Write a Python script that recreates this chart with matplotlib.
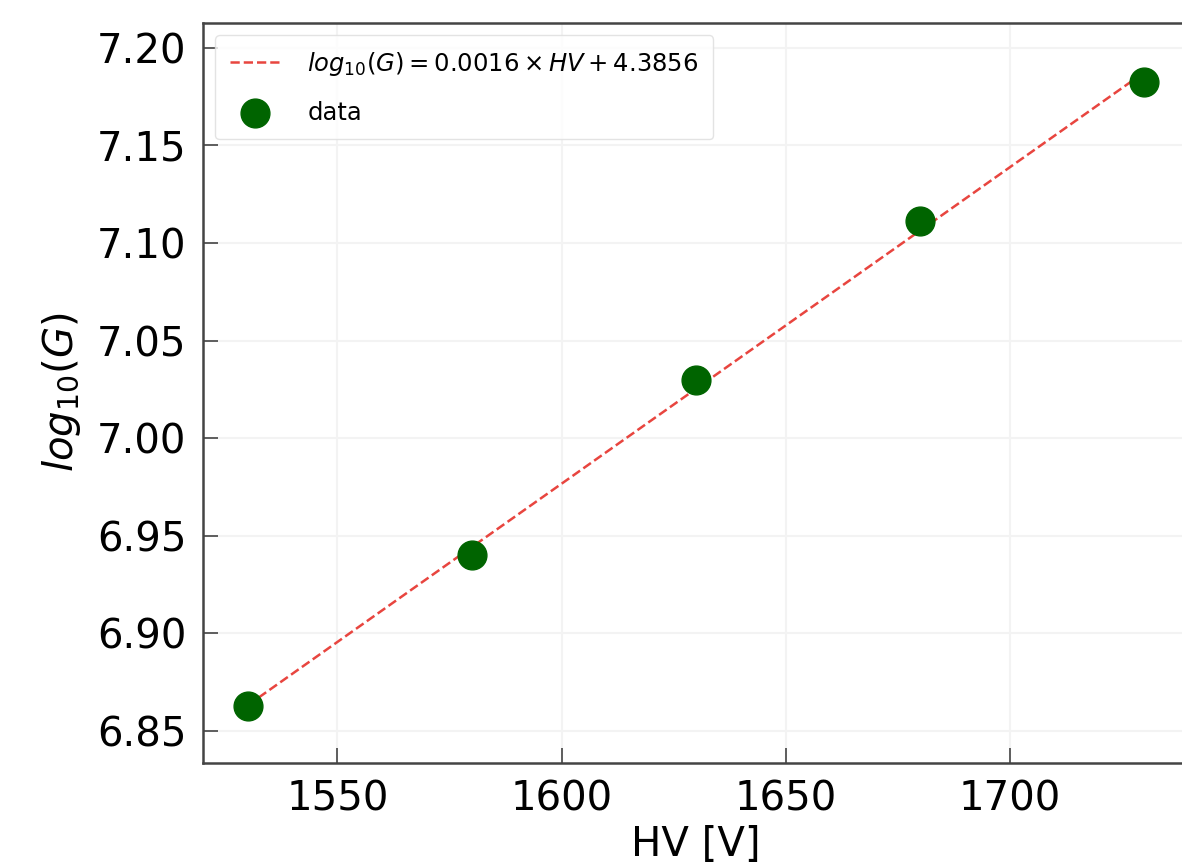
import numpy as np
import matplotlib
matplotlib.use("Agg")
import matplotlib.pyplot as plt

# values
hv = [1530, 1580, 1630, 1680, 1730]
log_gain = [6.8626, 6.940, 7.0297, 7.1113, 7.1826]
fit_label = r"$log_{10}(G) = 0.0016 \times HV + 4.3856$"
x_ticks = [1550, 1600, 1650, 1700]
y_ticks = [6.85, 6.90, 6.95, 7.00, 7.05, 7.10, 7.15, 7.20]

plt.rcParams["font.family"] = ["DejaVu Sans"]
plt.rcParams["mathtext.fontset"] = "dejavusans"

fig = plt.figure(figsize=(11.82, 8.68), dpi=100)
ax = fig.add_axes([0.1717, 0.1215, 0.8343, 0.852])

slope, inter = np.polyfit(hv, log_gain, 1)
xs = np.array([hv[0], hv[-1]])
ax.plot(xs, slope * xs + inter, "--", color="#e8453f", lw=1.8, label=fit_label, zorder=2)
ax.scatter(hv, log_gain, s=430, color="#006400", label="data", zorder=3)

ax.set_xlim(1520, 1740)
ax.set_ylim(6.8336, 7.2128)
ax.set_xticks(x_ticks)
ax.set_yticks(y_ticks)
ax.set_yticklabels([f"{v:.2f}" for v in y_ticks])
ax.tick_params(direction="in", length=11, width=1.2, labelsize=29, color="#444444",
               pad=12)
ax.grid(True, color="#f3f3f3", lw=1.5, zorder=0)
for s in ax.spines.values():
    s.set_color("#444444")
    s.set_linewidth(1.8)

ax.set_xlabel("HV [V]", fontsize=29, labelpad=4)
ax.set_ylabel(r"$log_{10}(G)$", fontsize=29, labelpad=10)

leg = ax.legend(loc="upper left", fontsize=17.5, frameon=True, handlelength=2.1,
                borderpad=0.6, labelspacing=0.95, handletextpad=1.1)
leg.get_frame().set_edgecolor("#dddddd")

fig.savefig("out.png", dpi=100)
